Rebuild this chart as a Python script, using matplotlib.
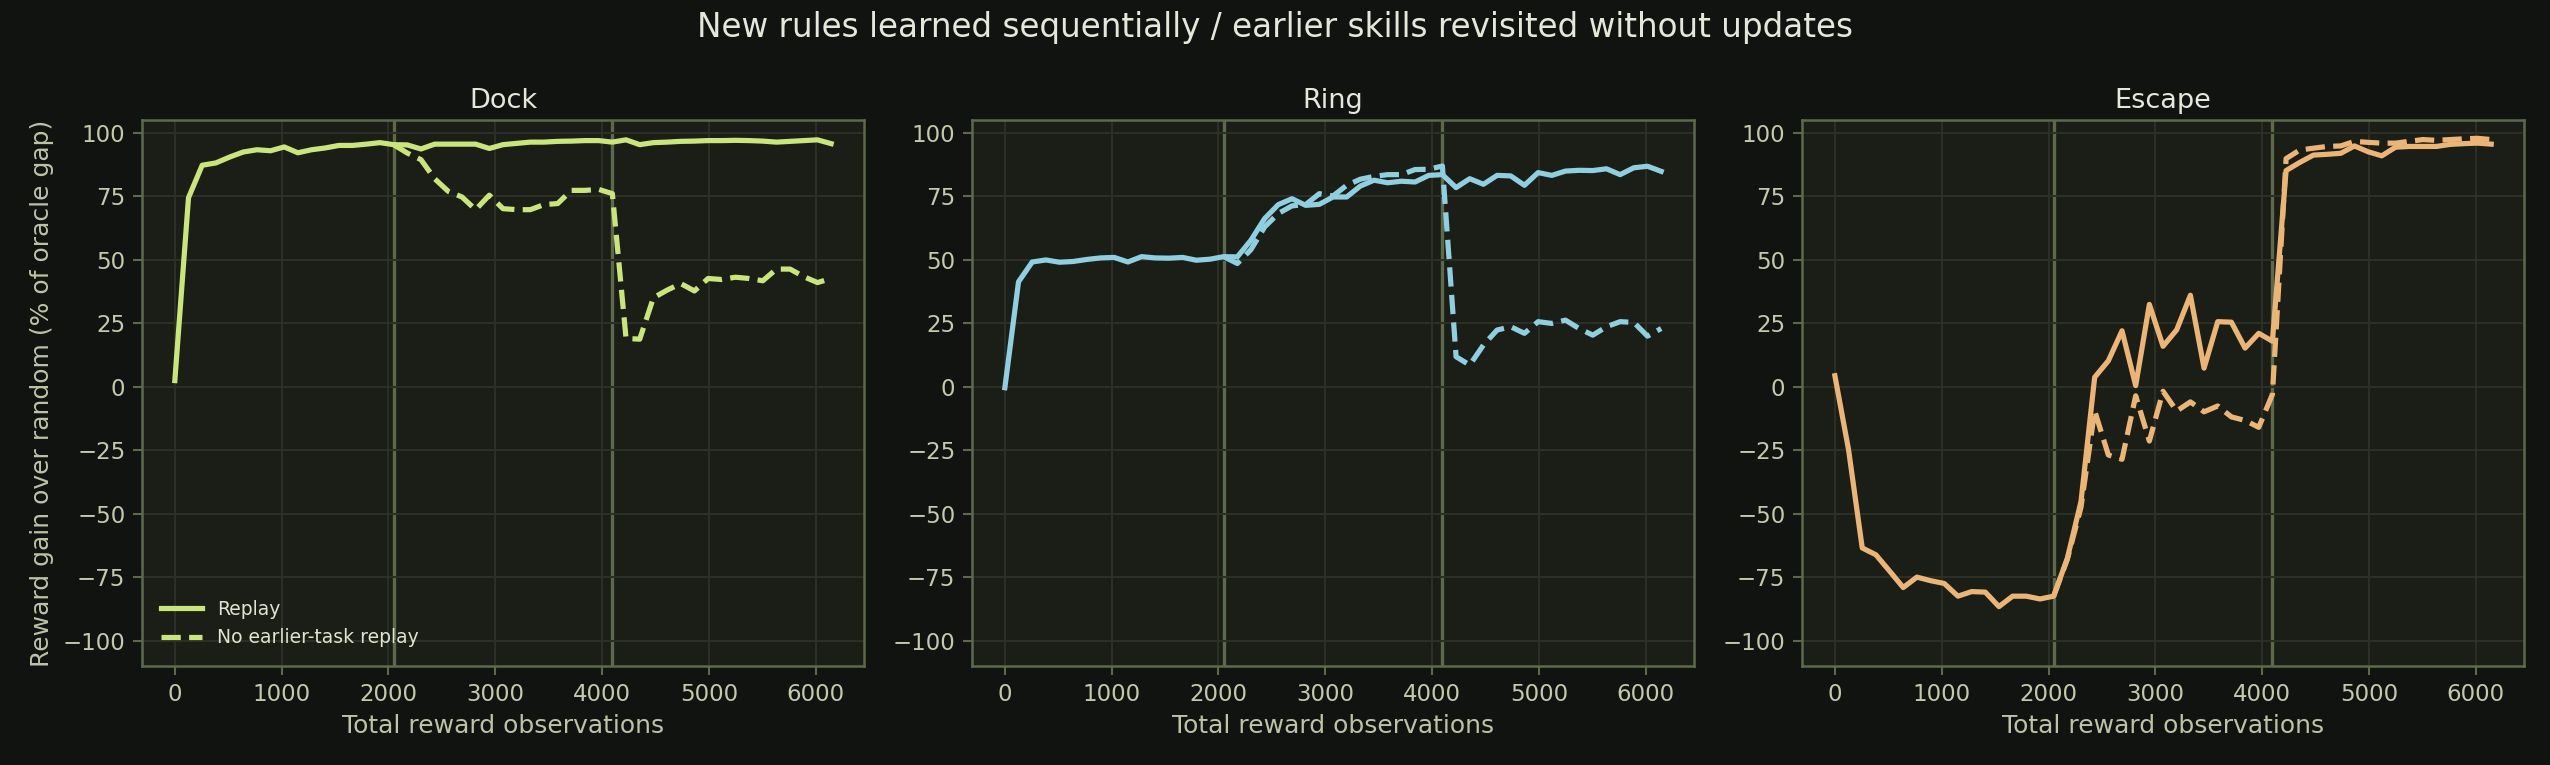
import numpy as np
import matplotlib
matplotlib.use("Agg")
import matplotlib.pyplot as plt

# ---- data ----
step = 128
n_points = 49
obs = np.arange(n_points) * step          # total reward observations
boundaries = [2048, 4096]
start_idx = 16                            # no-replay curves start at first boundary

panels = ["Dock", "Ring", "Escape"]

dock_replay = [2.4, 74.4, 87.2, 88.1, 90.4, 92.4, 93.3, 92.9, 94.4, 92.1, 93.3, 94.0, 95.0, 95.0, 95.5, 96.1, 95.3,
               95.2, 93.6, 95.5, 95.5, 95.5, 95.5, 93.8, 95.3, 95.8, 96.3, 96.3, 96.6, 96.7, 96.9, 96.9, 96.3,
               97.2, 95.3, 96.1, 96.3, 96.6, 96.7, 96.9, 96.9, 97.0, 96.9, 96.7, 96.3, 96.6, 96.9, 97.2, 95.7]
dock_noreplay = [95.3, 92.0, 89.4, 81.9, 76.9, 74.7, 69.7, 75.4, 70.1, 69.7, 69.7, 71.7, 72.1, 77.3, 77.3, 77.7, 76.0,
                 19.0, 18.7, 35.0, 38.0, 40.6, 37.7, 42.6, 42.2, 43.1, 42.6, 41.7, 46.3, 46.3, 43.3, 41.0, 42.6]

ring_replay = [-0.4, 41.3, 49.1, 49.9, 49.0, 49.3, 50.1, 50.7, 50.9, 49.1, 51.2, 50.7, 50.6, 50.9, 49.8, 50.2, 51.2,
               51.1, 57.7, 66.2, 71.7, 74.0, 71.4, 71.8, 74.7, 74.7, 79.0, 81.3, 80.3, 80.9, 80.6, 83.2, 83.5,
               78.4, 81.9, 79.7, 83.2, 83.0, 79.3, 84.3, 83.2, 84.9, 85.2, 85.1, 85.8, 83.5, 86.2, 86.8, 84.8]
ring_noreplay = [51.2, 48.5, 54.0, 62.9, 68.2, 71.2, 71.7, 76.0, 75.1, 79.3, 81.7, 82.8, 83.5, 83.5, 85.5, 85.6, 86.9,
                 11.8, 8.5, 16.4, 22.3, 23.6, 21.0, 25.6, 24.9, 26.2, 22.9, 20.3, 23.6, 25.6, 25.3, 19.9, 22.9]

escape_replay = [4.3, -24.8, -63.5, -66.2, -72.6, -79.1, -75.0, -76.4, -77.5, -82.5, -80.7, -80.9, -86.6, -82.5, -82.5, -83.6, -82.5,
                 -67.6, -45.2, 3.7, 10.2, 22.0, 0.4, 32.4, 15.9, 22.4, 36.0, 7.3, 25.6, 25.4, 15.2, 21.0, 17.9,
                 85.1, 88.3, 91.2, 91.5, 91.9, 94.8, 92.5, 90.9, 94.3, 94.6, 94.6, 94.6, 95.4, 95.7, 95.9, 95.5]
escape_noreplay = [-82.5, -68.0, -47.5, -9.5, -26.9, -28.6, -3.6, -21.4, -1.8, -9.6, -6.0, -9.9, -7.6, -11.9, -13.3, -16.0, -3.0,
                   89.8, 93.2, 93.9, 94.6, 94.8, 96.6, 96.2, 95.9, 95.9, 96.6, 97.3, 97.0, 97.3, 97.6, 97.8, 97.3]

replay_series = [dock_replay, ring_replay, escape_replay]
noreplay_series = [dock_noreplay, ring_noreplay, escape_noreplay]
colors = ["#c9e57c", "#8fcfe0", "#ebb577"]

yticks = [100, 75, 50, 25, 0, -25, -50, -75, -100]
xticks = [0, 1000, 2000, 3000, 4000, 5000, 6000]

# ---- style ----
FIG_BG = "#111311"
AX_BG = "#1b1d17"
SPINE = "#5c6a4b"
GRID = "#2b2f26"
TICK_TXT = "#c3c9ad"
LABEL_TXT = "#bcc3a7"
TITLE_TXT = "#e4e7da"

plt.rcParams['font.family'] = ['DejaVu Sans']

fig = plt.figure(figsize=(17, 5.1), dpi=150, facecolor=FIG_BG)
left0, width, gap = 0.0557, 0.2831, 0.0424
bottom, height = 0.1294, 0.7137

axes = []
for i in range(3):
    ax = fig.add_axes([left0 + i * (width + gap), bottom, width, height])
    axes.append(ax)
    ax.set_facecolor(AX_BG)
    ax.grid(True, color=GRID, linewidth=1.0, zorder=0)
    for b in boundaries:
        ax.axvline(b, color=SPINE, linewidth=1.6, zorder=1)
    ax.plot(obs, replay_series[i], color=colors[i], linewidth=2.5, label="Replay", zorder=3)
    ax.plot(obs[start_idx:], noreplay_series[i], color=colors[i], linewidth=2.5,
            linestyle="--", label="No earlier-task replay", zorder=3)
    ax.set_ylim(-110, 105)
    ax.set_xlim(-307, 6451)
    ax.set_yticks(yticks)
    ax.set_xticks(xticks)
    ax.tick_params(colors=SPINE, labelcolor=TICK_TXT, labelsize=11, length=4.5, width=1.0)
    for s in ax.spines.values():
        s.set_color(SPINE)
        s.set_linewidth(1.2)
    ax.set_title(panels[i], color=TITLE_TXT, fontsize=13, pad=6)
    ax.set_xlabel("Total reward observations", color=LABEL_TXT, fontsize=12)

axes[0].set_ylabel("Reward gain over random (% of oracle gap)", color=LABEL_TXT, fontsize=12)
leg = axes[0].legend(loc="lower left", frameon=False, fontsize=9, labelcolor="#dfe3d2",
                     borderaxespad=0.6, handlelength=2.2)

fig.suptitle("New rules learned sequentially / earlier skills revisited without updates",
             color=TITLE_TXT, fontsize=15.7, y=0.985)

fig.savefig("out.png", dpi=150, facecolor=FIG_BG)
